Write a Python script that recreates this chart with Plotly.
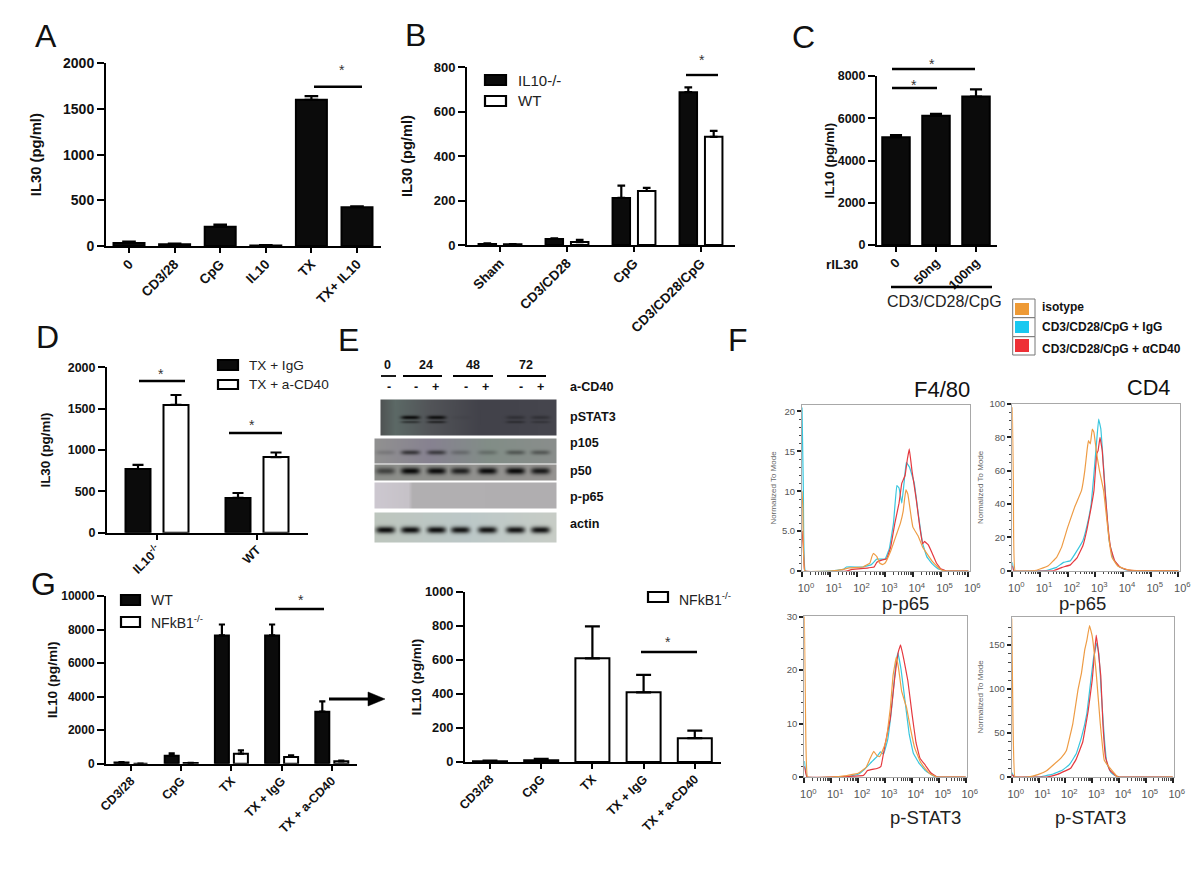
import numpy as np
import plotly.graph_objects as go

W, H = 1200, 881
FONT = "Liberation Sans"
BLACK = "#0b0b0b"

# ---------------- bar data ----------------
a_cats = ["0", "CD3/28", "CpG", "IL10", "TX", "TX+ IL10"]
a_vals = [32, 18, 210, 6, 1600, 425]
a_errs = [15, 8, 25, 3, 40, 10]

b_cats = ["Sham", "CD3/CD28", "CpG", "CD3/CD28/CpG"]
b_ko = [5, 27, 212, 688]
b_ko_err = [2, 3, 55, 22]
b_wt = [3, 13, 243, 487]
b_wt_err = [1, 10, 14, 27]

c_cats = ["0", "50ng", "100ng"]
c_vals = [5100, 6120, 7030]
c_errs = [100, 90, 340]

d_cats = ["IL10<sup>-/-</sup>", "WT"]
d_igg = [770, 420]
d_igg_err = [50, 60]
d_cd40 = [1545, 915]
d_cd40_err = [120, 55]

g_cats = ["CD3/28", "CpG", "TX", "TX + IgG", "TX + a-CD40"]
g_wt = [70, 480, 7650, 7650, 3100]
g_wt_err = [30, 130, 650, 650, 620]
g_nf = [0, 40, 600, 400, 140]
g_nf_err = [0, 10, 190, 100, 45]

h_vals = [5, 10, 610, 410, 140]
h_errs = [3, 8, 188, 102, 45]

# ---------------- flow cytometry data (decade, value) ----------------
f1_orange_x = [0, .03, .1, 1, 1.5, 1.7, 2.2, 2.45, 2.52, 2.58, 2.7, 2.8, 2.9, 3.0, 3.2, 3.4, 3.55, 3.65, 3.7, 3.75, 3.82, 3.95, 4.0, 4.2, 4.35, 4.5, 4.7, 4.9, 5.0, 5.2, 6]
f1_orange_y = [10, 8, 0, 0, .2, .4, .5, 1, 1.8, 2.2, 1.8, 1, .8, 1, 2.5, 4.5, 6, 7.5, 9, 10.2, 9.6, 6.5, 5.5, 4.3, 3, 2.2, 1.2, .5, .2, 0, 0]
f1_cyan_x = [0, .05, .12, 1, 1.5, 1.6, 2.2, 2.5, 2.7, 3, 3.15, 3.3, 3.42, 3.5, 3.6, 3.68, 3.76, 3.88, 4.05, 4.2, 4.35, 4.5, 4.7, 4.9, 5.2, 6]
f1_cyan_y = [20.5, 10, 0, 0, .2, .5, .5, .8, 1.5, 1.5, 2.8, 6, 10.7, 10.4, 8.5, 11, 13.6, 13, 11, 7, 3.5, 1.8, .9, .3, 0, 0]
f1_red_x = [0, .05, .1, 1.6, 1.8, 2.4, 2.6, 2.7, 2.9, 3.05, 3.2, 3.35, 3.5, 3.6, 3.72, 3.8, 3.87, 3.97, 4.12, 4.25, 4.35, 4.42, 4.55, 4.7, 4.85, 5, 5.2, 6]
f1_red_y = [5, 3, 0, 0, .2, .4, .5, 1.1, 1.4, 1.5, 3, 6, 8.5, 11, 12, 14, 15.3, 12.5, 9, 5.5, 3.4, 3.7, 3.3, 2.2, 1, .3, 0, 0]

f2_orange_x = [0, .04, .1, .8, 1, 1.3, 1.6, 1.78, 2, 2.25, 2.5, 2.62, 2.7, 2.75, 2.82, 2.89, 2.95, 3.05, 3.15, 3.3, 3.4, 3.5, 3.6, 3.8, 4, 4.2, 4.5, 6]
f2_orange_y = [98, 50, 0, 0, 1, 3, 8, 14, 26, 38, 48, 60, 72, 78, 76, 85, 83, 70, 60, 48, 33, 18, 8, 3, 1.5, .5, 0, 0]
f2_cyan_x = [0, .06, 1.2, 1.6, 1.85, 2.1, 2.3, 2.55, 2.7, 2.85, 2.95, 3.05, 3.12, 3.2, 3.3, 3.4, 3.5, 3.65, 3.85, 4.1, 4.4, 6]
f2_cyan_y = [5, 0, 0, 2, 5, 6, 11, 18, 27, 40, 58, 78, 91, 85, 62, 38, 18, 7, 2.5, .5, 0, 0]
f2_red_x = [0, .05, 1.5, 1.8, 2.1, 2.35, 2.55, 2.7, 2.85, 2.95, 3.05, 3.1, 3.17, 3.25, 3.35, 3.45, 3.55, 3.7, 3.9, 4.2, 4.4, 6]
f2_red_y = [3, 0, 0, 2, 3.5, 8, 15, 25, 38, 48, 70, 72, 80, 72, 48, 28, 14, 6, 2, .3, 0, 0]

f3_orange_x = [0, .05, .12, 1, 1.5, 2, 2.3, 2.45, 2.58, 2.7, 2.8, 2.9, 3.05, 3.2, 3.3, 3.42, 3.5, 3.62, 3.8, 3.95, 4.1, 4.3, 4.5, 4.7, 4.95, 6]
f3_orange_y = [30, 10, 0, 0, .2, .7, 1.8, 3.5, 4.8, 4, 3.8, 4.8, 7, 13, 19, 22.4, 20.5, 16, 13, 9, 5.5, 3, 1.5, .5, 0, 0]
f3_cyan_x = [0, .1, 1.5, 2, 2.25, 2.5, 2.7, 2.83, 2.95, 3.1, 3.25, 3.4, 3.48, 3.6, 3.75, 3.9, 4.05, 4.25, 4.5, 4.8, 5, 6]
f3_cyan_y = [3, 0, 0, .5, 1.5, 2.8, 3.8, 4.7, 4.3, 7, 13, 21, 23.2, 20, 14, 8, 4.5, 2.7, 1.2, .2, 0, 0]
f3_red_x = [0, .1, 2.2, 2.35, 2.7, 2.85, 3, 3.2, 3.35, 3.5, 3.58, 3.7, 3.85, 4, 4.15, 4.3, 4.5, 4.7, 4.95, 6]
f3_red_y = [2, 0, .3, 1.2, 1.6, 2, 6, 11, 18, 23.5, 24.7, 22, 18, 12, 6.5, 3.5, 2.2, .8, 0, 0]

f4_orange_x = [0, .05, .12, .6, 1, 1.3, 1.6, 1.85, 2.04, 2.28, 2.47, 2.6, 2.72, 2.8, 2.9, 3, 3.15, 3.3, 3.45, 3.83, 3.95, 6]
f4_orange_y = [180, 60, 0, 0, 3, 7, 15, 22, 30, 61, 99, 118, 144, 155, 172, 160, 118, 61, 19, 4, 0, 0]
f4_cyan_x = [0, .1, 1, 1.5, 1.9, 2.15, 2.4, 2.6, 2.8, 2.95, 3.05, 3.17, 3.25, 3.35, 3.45, 3.55, 3.7, 3.9, 4, 6]
f4_cyan_y = [5, 0, 0, 3, 8, 14, 26, 45, 72, 110, 135, 152, 140, 90, 45, 15, 5, 1, 0, 0]
f4_red_x = [0, .1, 1.3, 1.7, 2, 2.2, 2.4, 2.65, 2.85, 3, 3.1, 3.15, 3.22, 3.32, 3.4, 3.5, 3.65, 3.85, 4, 6]
f4_red_y = [3, 0, 0, 3, 7, 10, 20, 40, 75, 110, 145, 161, 145, 115, 60, 22, 8, 2, 0, 0]

# ---------------- blot data (band darkness per lane) ----------------
blot_lanes = [385, 410, 436, 460, 487, 515, 540]
pstat3_upper = [0, .9, .85, .05, 0, .3, .3]
pstat3_lower = [0, .45, .55, 0, 0, .35, .25]
p105_band = [.15, .6, .55, .22, .22, .38, .38]
p50_band = [.55, .97, .95, .8, .95, .97, .85]
actin_band = [.95, .95, .95, .92, .92, .92, .92]

fig = go.Figure()
layout = {}
axis_n = [0]


def dom_x(a, b):
    return [a / W, b / W]


def dom_y(top, bottom):
    return [1 - bottom / H, 1 - top / H]


def new_axes():
    axis_n[0] += 1
    n = axis_n[0]
    return n, ("x%d" % n if n > 1 else "x"), ("y%d" % n if n > 1 else "y")


def bar_panel(left, right, y0, ytop, ymax, dtick, title, standoff, cats, first_px, step, series,
              tick_size=13, title_size=14, cat_size=13.5):
    n, xr, yr = new_axes()
    xrange_ = [(left - first_px) / step, (right - first_px) / step]
    layout["xaxis%d" % n] = dict(
        domain=dom_x(left, right), anchor=yr, type="category", categoryorder="array", categoryarray=cats,
        range=xrange_, showline=True, linecolor="black", linewidth=2, ticks="outside", ticklen=5, tickwidth=2,
        tickcolor="black", tickangle=-45, showgrid=False, zeroline=False, ticklabelstandoff=-2,
        tickfont=dict(family=FONT, size=cat_size, color="#111", weight="bold"))
    layout["yaxis%d" % n] = dict(
        domain=dom_y(ytop, y0), anchor=xr, range=[0, ymax], dtick=dtick, tickformat="d", showline=True,
        linecolor="black", linewidth=2, ticks="outside", ticklen=7, tickwidth=2, tickcolor="black",
        showgrid=False, zeroline=False,
        tickfont=dict(family=FONT, size=tick_size, color="#111", weight="bold"),
        title=dict(text=title, standoff=standoff, font=dict(family=FONT, size=title_size, color="#111", weight="bold")))
    for name, vals, errs, fill, offset_px, width_px in series:
        fig.add_trace(go.Bar(
            x=cats, y=vals, name=name, xaxis=xr, yaxis=yr,
            width=width_px / step, offset=(offset_px - width_px / 2) / step,
            marker=dict(color=fill, line=dict(color="black", width=2)),
            error_y=dict(type="data", array=errs, arrayminus=[0] * len(errs), symmetric=False, color="black",
                         thickness=2.2, width=max(3, width_px * 0.22)),
            showlegend=False))


bar_panel(106, 381, 246, 63.3, 2000, 500, "IL30 (pg/ml)", 18, a_cats, 129, 45.6,
          [("IL30", a_vals, a_errs, BLACK, 0, 31)], tick_size=14, title_size=14.8)
bar_panel(467, 735, 245, 67.3, 800, 200, "IL30 (pg/ml)", 18, b_cats, 500, 67,
          [("IL10-/-", b_ko, b_ko_err, BLACK, -12.7, 17.5), ("WT", b_wt, b_wt_err, "white", 12.7, 17.5)],
          tick_size=13, title_size=14.6)
bar_panel(877, 997, 245, 76, 8000, 2000, "IL10 (pg/ml)", 0, c_cats, 896, 40,
          [("IL10", c_vals, c_errs, BLACK, 0, 27.5)], tick_size=12.5, title_size=13.5, cat_size=13)
bar_panel(107, 308, 532.7, 367.3, 2000, 500, "IL30 (pg/ml)", 14, d_cats, 157, 100,
          [("TX + IgG", d_igg, d_igg_err, BLACK, -19, 25), ("TX + a-CD40", d_cd40, d_cd40_err, "white", 19, 25)],
          tick_size=12.5, title_size=13.4, cat_size=12.5)
bar_panel(106, 357, 763.7, 596, 10000, 2000, "IL10 (pg/ml)", 0, g_cats, 131, 50.2,
          [("WT", g_wt, g_wt_err, BLACK, -9.5, 14), ("NFkB1-/-", g_nf, g_nf_err, "white", 9.5, 14)],
          tick_size=12, title_size=13.7, cat_size=12.5)
bar_panel(465, 721, 762, 592, 1000, 200, "IL10 (pg/ml)", 0, g_cats, 490, 51.2,
          [("NFkB1-/-", h_vals, h_errs, "white", 0, 34)], tick_size=12.8, title_size=13.7, cat_size=12.5)

FLOW_COLORS = {"isotype": "#ee9c45", "CD3/CD28/CpG + IgG": "#38c6de", "CD3/CD28/CpG + aCD40": "#e5393f"}
DECADES = list(range(7))
DEC_LABELS = ["10<sup>%d</sup>" % d for d in DECADES]
MINOR_X = [d + float(np.log10(m)) for d in DECADES[:-1] for m in range(2, 10)]


def flow_panel(left, right, top, bottom, ymax, yticks, ylabels, minor_y, with_title, curves):
    n, xr, yr = new_axes()
    tf = dict(family=FONT, size=9.5, color="#555")
    layout["xaxis%d" % n] = dict(
        domain=dom_x(left, right), anchor=yr, range=[0, 6.06], tickvals=DECADES, ticktext=DEC_LABELS,
        showline=True, mirror=True, linecolor="#a8a8a8", linewidth=1, ticks="outside", ticklen=5, tickwidth=1.5,
        tickcolor="#222", showgrid=False, zeroline=False, tickfont=dict(family=FONT, size=11, color="#555"),
        ticklabelshift=4, ticklabelstandoff=2, tickangle=0,
        minor=dict(tickmode="array", tickvals=MINOR_X, ticks="outside", ticklen=2.5, tickwidth=.8, tickcolor="#444"))
    title = dict(text="Normalized To Mode", standoff=4, font=dict(family=FONT, size=8, color="#666")) if with_title else None
    layout["yaxis%d" % n] = dict(
        domain=dom_y(top, bottom), anchor=xr, range=[0, ymax], tickvals=yticks, ticktext=ylabels,
        showline=True, mirror=True, linecolor="#a8a8a8", linewidth=1, ticks="outside", ticklen=4, tickwidth=1.5,
        tickcolor="#222", showgrid=False, zeroline=False, tickfont=tf, title=title,
        minor=dict(tickmode="array", tickvals=minor_y, ticks="outside", ticklen=2.5, tickwidth=.8, tickcolor="#444"))
    for name, xs, ys in curves:
        fig.add_trace(go.Scatter(x=xs, y=ys, name=name, mode="lines", xaxis=xr, yaxis=yr, showlegend=False,
                                 line=dict(color=FLOW_COLORS[name], width=1.2, shape="spline", smoothing=.2)))


flow_panel(802, 970, 405, 571, 20.8, [0, 5, 10, 15, 20], ["0", "5.0", "10", "15", "20"],
           [1, 2, 3, 4, 6, 7, 8, 9, 11, 12, 13, 14, 16, 17, 18, 19], True,
           [("CD3/CD28/CpG + IgG", f1_cyan_x, f1_cyan_y), ("CD3/CD28/CpG + aCD40", f1_red_x, f1_red_y),
            ("isotype", f1_orange_x, f1_orange_y)])
flow_panel(1012.3, 1180, 404, 570.7, 100, [0, 20, 40, 60, 80, 100], ["0", "20", "40", "60", "80", "100"],
           [5, 10, 15, 25, 30, 35, 45, 50, 55, 65, 70, 75, 85, 90, 95], True,
           [("CD3/CD28/CpG + IgG", f2_cyan_x, f2_cyan_y), ("CD3/CD28/CpG + aCD40", f2_red_x, f2_red_y),
            ("isotype", f2_orange_x, f2_orange_y)])
flow_panel(804.3, 967.3, 616, 777, 30.1, [0, 10, 20, 30], ["0", "10", "20", "30"],
           [2, 4, 6, 8, 12, 14, 16, 18, 22, 24, 26, 28], False,
           [("CD3/CD28/CpG + IgG", f3_cyan_x, f3_cyan_y), ("CD3/CD28/CpG + aCD40", f3_red_x, f3_red_y),
            ("isotype", f3_orange_x, f3_orange_y)])
flow_panel(1011.7, 1174.3, 616.7, 777, 182, [0, 50, 100, 150], ["0", "50", "100", "150"],
           [10, 20, 30, 40, 60, 70, 80, 90, 110, 120, 130, 140, 160, 170], True,
           [("CD3/CD28/CpG + IgG", f4_cyan_x, f4_cyan_y), ("CD3/CD28/CpG + aCD40", f4_red_x, f4_red_y),
            ("isotype", f4_orange_x, f4_orange_y)])

# ---------------- blot strips drawn as images on a full-figure axis ----------------
n_o, xo, yo = new_axes()
layout["xaxis%d" % n_o] = dict(domain=[0, 1], range=[0, W], visible=False, anchor=yo, fixedrange=True)
layout["yaxis%d" % n_o] = dict(domain=[0, 1], range=[H, 0], visible=False, anchor=xo, fixedrange=True)


def blot_strip(x0, x1, y0, y1, stops, bands, halfw=9.5):
    xs = np.arange(x0, x1)
    ys = np.arange(y0, y1)
    px = [s[0] for s in stops]
    rgb = np.stack([np.interp(xs, px, [s[1][c] for s in stops]) for c in range(3)], axis=1)
    img = np.repeat(rgb[None, :, :], len(ys), axis=0)
    dark = np.zeros((len(ys), len(xs)))
    for yc, sig, vals in bands:
        yprof = np.exp(-((ys - yc) / sig) ** 2)
        for lane, v in zip(blot_lanes, vals):
            xprof = np.exp(-(np.abs(xs - lane) / halfw) ** 4)
            dark = np.maximum(dark, v * np.outer(yprof, xprof))
    img = img * (1 - dark[:, :, None]) + 8 * dark[:, :, None]
    fig.add_trace(go.Image(z=img.astype(np.uint8).tolist(), x0=float(x0), y0=float(y0), dx=1, dy=1,
                           xaxis=xo, yaxis=yo, hoverinfo="skip", colormodel="rgb"))


blot_strip(381, 557, 400, 436, [(381, (80, 84, 84)), (395, (92, 105, 102)), (430, (82, 84, 88)), (480, (66, 66, 74)), (557, (70, 70, 78))],
           [(417, 2.0, pstat3_upper), (421.5, 1.5, pstat3_lower)])
blot_strip(375, 557, 439, 464, [(375, (145, 145, 145)), (430, (135, 130, 145)), (490, (130, 142, 135)), (557, (138, 142, 140))],
           [(452, 2.4, p105_band)])
blot_strip(375, 557, 465, 481, [(375, (140, 142, 138)), (557, (150, 148, 146))], [(470.5, 3.4, p50_band)])
blot_strip(375, 557, 483, 509, [(375, (205, 200, 208)), (408, (198, 194, 200)), (412, (178, 176, 178)), (557, (176, 174, 176))], [])
blot_strip(375, 557, 513, 543, [(375, (190, 198, 190)), (470, (188, 200, 200)), (557, (200, 205, 198))], [(529.5, 3.4, actin_band)])

# ---------------- annotations and shapes ----------------
shapes = []
ann = []


def text(x, y, s, size=13, bold=False, color="#111", anchor="center"):
    ann.append(dict(xref="paper", yref="paper", x=x / W, y=1 - y / H, text=s, showarrow=False, xanchor=anchor,
                    yanchor="middle", font=dict(family=FONT, size=size, color=color, weight="bold" if bold else "normal")))


def hline(x0, x1, y, w=2.4):
    shapes.append(dict(type="line", xref="paper", yref="paper", x0=x0 / W, x1=x1 / W, y0=1 - y / H, y1=1 - y / H,
                       line=dict(color="black", width=w)))


def rect(x0, x1, y0, y1, fill, line="black", w=2.2):
    shapes.append(dict(type="rect", xref="paper", yref="paper", x0=x0 / W, x1=x1 / W, y0=1 - y1 / H, y1=1 - y0 / H,
                       fillcolor=fill, line=dict(color=line, width=w)))


def swatch(x0, x1, y0, y1, fill):
    rect(x0, x1, y0, y1, fill)


for s, x, y in [("A", 46, 36), ("B", 415, 35), ("C", 803, 37), ("D", 47, 337), ("E", 348, 340), ("F", 738, 340), ("G", 43, 584)]:
    text(x, y, s, size=32)

for x0, x1, y, sx, sy in [(314, 362, 86.7, 342, 70), (686, 718, 75, 702, 60), (892, 975, 69, 932, 64), (892, 937, 88, 914, 85),
                          (139, 185, 381, 161, 374), (229, 282, 433, 252, 425), (275, 324, 609, 301, 600), (641, 697, 652, 668, 642)]:
    hline(x0, x1, y)
    text(sx, sy, "*", size=14, color="#333")

# legends of the bar panels
swatch(485, 506, 75, 85, BLACK)
swatch(485, 506, 96, 106, "white")
text(516, 80, "IL10-/-", 15, anchor="left", color="#222")
text(516, 100, "WT", 15, anchor="left", color="#222")

swatch(218, 238, 360, 370, BLACK)
swatch(218, 238, 380, 389, "white")
text(247, 365, "TX + IgG", 13.6, anchor="left", color="#222")
text(247, 384, "TX + a-CD40", 13.6, anchor="left", color="#222")

swatch(121, 140, 595, 605, BLACK)
swatch(121, 140, 617, 627, "white")
text(149, 600, "WT", 14, anchor="left", color="#222")
text(149, 622, "NFkB1<sup>-/-</sup>", 14, anchor="left", color="#222")

swatch(648, 668, 592, 602, "white")
text(677, 599, "NFkB1<sup>-/-</sup>", 14, anchor="left", color="#222")

# panel C extras
text(842, 264, "rIL30", 13.5, bold=True)
hline(891, 992, 287)
text(944, 302, "CD3/CD28/CpG", 16, color="#222")

# arrow
hline(329, 370, 699, 3)
shapes.append(dict(type="path", xref="paper", yref="paper",
                   path="M %f,%f L %f,%f L %f,%f Z" % (368 / W, 1 - 692 / H, 385 / W, 1 - 699 / H, 368 / W, 1 - 706 / H),
                   fillcolor="black", line=dict(color="black", width=0.5)))

# blot labels
for s, x in [("0", 388), ("24", 426), ("48", 473), ("72", 526)]:
    text(x, 365, s, 12.5, bold=True)
for x0, x1 in [(381, 396), (403, 442), (453, 493), (507, 546)]:
    hline(x0, x1, 376, 1.8)
for s, x in zip(["-", "-", "+", "-", "+", "-", "+"], [389, 416, 435, 466, 485, 521, 540]):
    text(x, 387, s, 12.5, bold=True)
for s, y in [("a-CD40", 387), ("pSTAT3", 417), ("p105", 443), ("p50", 471), ("p-p65", 497), ("actin", 524)]:
    text(568, y, s, 12.6, bold=True, anchor="left")

# flow legend
rect(1012.7, 1035, 299, 317.7, "white", "#777", 1)
rect(1012.7, 1035, 317.7, 336.7, "white", "#777", 1)
rect(1012.7, 1035, 336.7, 355, "white", "#777", 1)
rect(1015, 1029, 303, 315, "#ee9a35", "#ee9a35", 0)
rect(1015, 1029, 321, 333, "#18c8f0", "#18c8f0", 0)
rect(1015, 1029, 339, 352, "#ee2f35", "#ee2f35", 0)
text(1040, 307, "isotype", 12, bold=True, anchor="left")
text(1040, 327, "CD3/CD28/CpG + IgG", 12, bold=True, anchor="left")
text(1040, 349, "CD3/CD28/CpG + αCD40", 12, bold=True, anchor="left")

text(942, 389, "F4/80", 22)
text(1148, 387, "CD4", 21.7)
text(905, 603, "p-p65", 18.5, color="#222")
text(1082, 603, "p-p65", 18.5, color="#222")
text(925, 817, "p-STAT3", 18.5, color="#222")
text(1090, 817, "p-STAT3", 18.5, color="#222")

layout["xaxis"] = layout.pop("xaxis1")
layout["yaxis"] = layout.pop("yaxis1")
fig.update_layout(width=W, height=H, margin=dict(l=0, r=0, t=0, b=0, autoexpand=False), paper_bgcolor="white",
                  plot_bgcolor="rgba(0,0,0,0)", barmode="overlay", showlegend=False, shapes=shapes, annotations=ann,
                  font=dict(family=FONT), **layout)
fig.write_html("out.html", config={"displayModeBar": False}, post_script="document.body.style.margin='0';")
